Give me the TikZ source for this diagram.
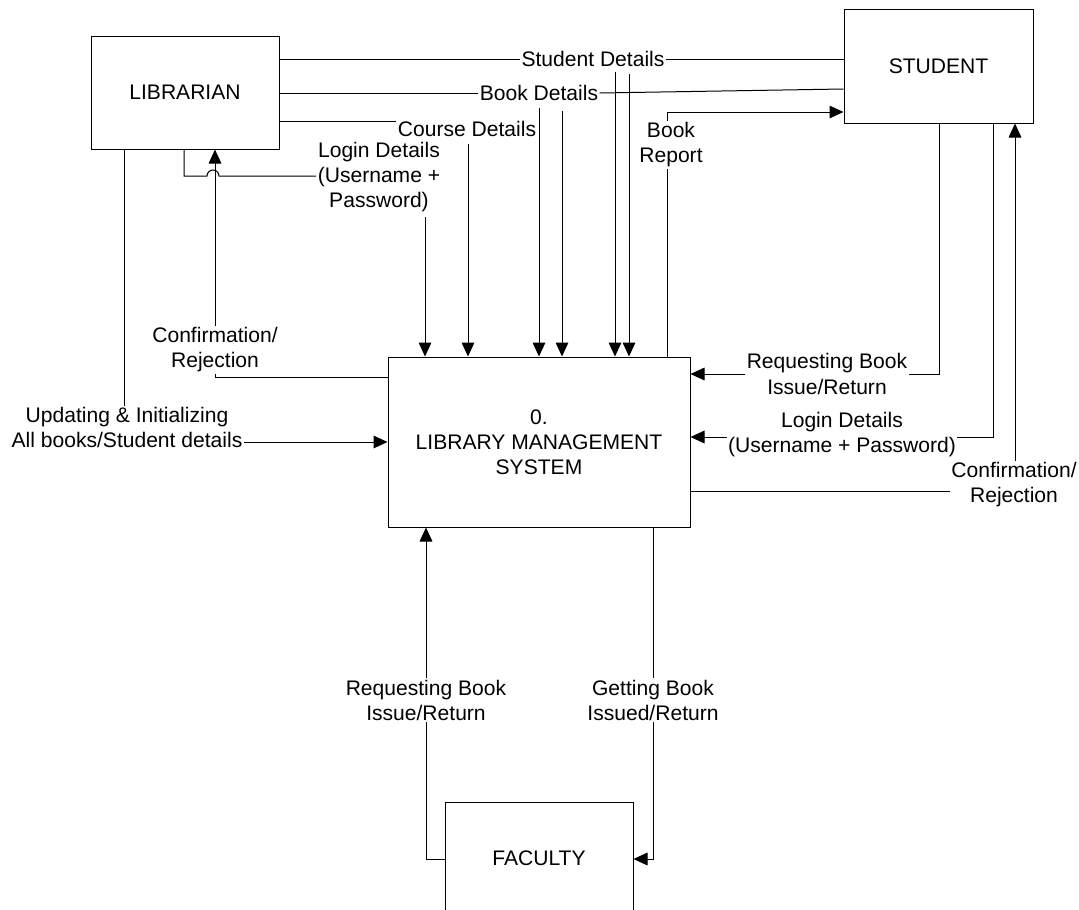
\documentclass[tikz,border=0pt]{standalone}
\usepackage{fontspec}
\setmainfont{Liberation Sans}
\usetikzlibrary{arrows.meta}

\begin{document}
\begin{tikzpicture}[x=0.75pt,y=-0.75pt,
  every node/.style={font=\fontsize{15.8}{18.8}\selectfont},
  entity/.style={draw, line width=0.75pt, minimum width=141pt, minimum height=84.75pt, inner sep=0pt, align=center},
  lbl/.style={inner sep=1pt, align=center},
  plain/.style={draw, line width=0.75pt},
  flow/.style={draw, line width=0.75pt, -{Triangle[length=10.5pt,width=9.5pt]}},
]
\useasboundingbox (0,0) rectangle (1079,910);
\clip (0,0) rectangle (1079,910);

% external entities and the process
\node[entity] (lib) at (185,92.5) {LIBRARIAN};
\node[entity, minimum width=141.75pt, minimum height=85.5pt] (stu) at (938.5,66) {STUDENT};
\node[entity, minimum width=226.5pt, minimum height=127.5pt] (lms) at (539,442) {0.\\LIBRARY MANAGEMENT\\SYSTEM};
\node[entity] (fac) at (539,858.5) {FACULTY};

% flow labels
\node[lbl] (sd)  at (593,59)  {Student Details};
\node[lbl] (bd)  at (539,93)  {Book Details};
\node[lbl] (cd)  at (467,129) {Course Details};
\node[lbl] (ld)  at (379,177) {Login Details\\(Username +\\Password)};
\node[lbl] (br)  at (671,145) {Book\\Report};
\node[lbl] (lc)  at (215,350) {Confirmation/\\Rejection};
\node[lbl] (up)  at (127,427.5) {Updating \& Initializing\\All books/Student details};
\node[lbl] (srq) at (827,374) {Requesting Book\\Issue/Return};
\node[lbl] (sld) at (842,435) {Login Details\\(Username + Password)};
\node[lbl] (sc)  at (1014,485) {Confirmation/\\Rejection};
\node[lbl] (frq) at (426,700) {Requesting Book\\Issue/Return};
\node[lbl] (fgb) at (653,700) {Getting Book\\Issued/Return};

% free ends of the flows that drop into the process
\coordinate (sd1) at (615,72);
\coordinate (sd2) at (629,74);
\coordinate (bd1) at (539,108);
\coordinate (bd2) at (562,111);
\coordinate (cd1) at (468,144);
\coordinate (ld1) at (425,217);

% student details
\draw[plain] (lib.east |- sd.west) -- (sd.west);
\draw[plain] (sd.east) -- (stu.west |- sd.east);
\draw[flow] (sd1) -- (sd1 |- lms.north);
\draw[flow] (sd2) -- (sd2 |- lms.north);

% book details
\draw[plain] (lib.east |- bd.west) -- (bd.west);
\draw[plain] (bd.east) -- (stu.west |- 0,89);
\draw[flow] (bd1) -- (bd1 |- lms.north);
\draw[flow] (bd2) -- (bd2 |- lms.north);

% course details
\draw[plain] (lib.east |- 0,121) -- (cd.west |- 0,121);
\draw[flow] (cd1) -- (cd1 |- lms.north);

% librarian login, hopping over the confirmation flow
\draw[plain] (lib.south -| 184,0) -- (184,176) -- (207,176) arc (180:360:6) -- (ld.west |- 0,176);
\draw[flow] (ld1) -- (ld1 |- lms.north);

% book report to the student
\draw[plain] (lms.north -| 667,0) -- (br.south -| 667,0);
\draw[flow] (br.north -| 667,0) |- (stu.west |- 0,112);

% confirmation back to the librarian
\draw[plain] (lms.west |- 0,377) -| (lc.south);
\draw[flow] (lc.north) -- (lc.north |- lib.south);

% updating and initializing
\draw[plain] (lib.south -| 124,0) -- (124,0 |- up.north);
\draw[flow] (up.east |- 0,442) -- (lms.west |- 0,442);

% student requests and login
\draw[plain] (stu.south -| 939,0) |- (srq.east);
\draw[flow] (srq.west) -- (srq.west -| lms.east);
\draw[plain] (stu.south -| 993,0) |- (sld.east |- 0,437);
\draw[flow] (sld.west |- 0,437) -- (lms.east |- 0,437);

% confirmation back to the student
\draw[plain] (lms.east |- 0,491) -- (sc.west |- 0,491);
\draw[flow] (sc.north -| 1015,0) -- (1015,0 |- stu.south);

% faculty
\draw[plain] (fac.west |- 0,859) -| (frq.south);
\draw[flow] (frq.north) -- (frq.north |- lms.south);
\draw[plain] (lms.south -| fgb.north) -- (fgb.north);
\draw[flow] (fgb.south) |- (fac.east |- 0,859);
\end{tikzpicture}
\end{document}
